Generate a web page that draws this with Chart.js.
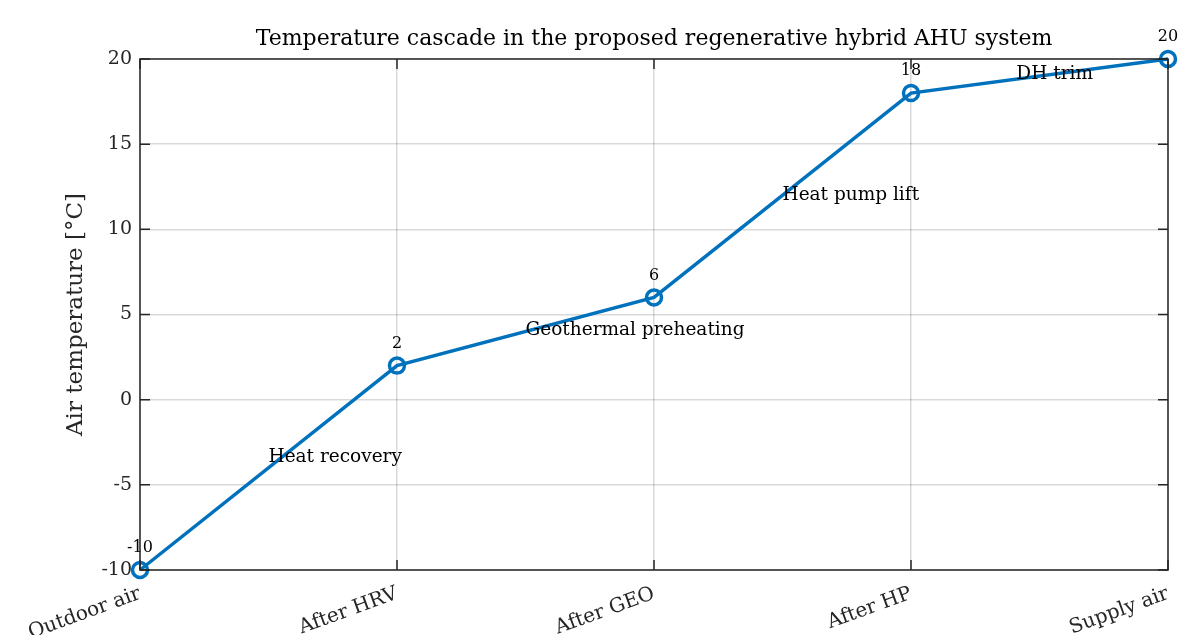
<!DOCTYPE html>
<html>
<head>
<meta charset="utf-8">
<script src="https://cdn.jsdelivr.net/npm/chart.js@4"></script>
<style>
  html, body { margin: 0; padding: 0; background: #fff; }
  #wrap { width: 1186px; height: 635px; }
</style>
</head>
<body>
<div id="wrap"><canvas id="cascadeChart" width="1186" height="635"></canvas></div>
<script>
// Stages of the AHU and the air temperature after each one
const stages = ['Outdoor air', 'After HRV', 'After GEO', 'After HP', 'Supply air'];
const temps = [-10, 2, 6, 18, 20];

// Process annotations: text, x (stage index), y (°C)
const noteTexts = ['Heat recovery', 'Geothermal preheating', 'Heat pump lift', 'DH trim'];
const noteX = [0.5, 1.5, 2.5, 3.41];
const noteY = [-3.4, 4.1, 12.0, 19.1];

const FONT = "'DejaVu Serif', serif";
const LINE_BLUE = '#0072BD';
const AXIS_COLOR = '#262626';

/**
 * Axes box, inward ticks, title, point values and annotations
 */
const matlabAxes = {
  id: 'matlabAxes',
  afterDraw(chart) {
    const { ctx, chartArea: a, scales } = chart;
    const xs = scales.x, ys = scales.y;
    ctx.save();

    // box
    ctx.strokeStyle = AXIS_COLOR;
    ctx.lineWidth = 1.5;
    ctx.strokeRect(a.left, a.top, a.right - a.left, a.bottom - a.top);

    // inward tick marks on all four sides
    const tl = 10;
    ctx.beginPath();
    xs.ticks.forEach((t, i) => {
      const px = xs.getPixelForTick(i);
      ctx.moveTo(px, a.bottom); ctx.lineTo(px, a.bottom - tl);
      ctx.moveTo(px, a.top); ctx.lineTo(px, a.top + tl);
    });
    ys.ticks.forEach((t) => {
      const py = ys.getPixelForValue(t.value);
      ctx.moveTo(a.left, py); ctx.lineTo(a.left + tl, py);
      ctx.moveTo(a.right, py); ctx.lineTo(a.right - tl, py);
    });
    ctx.stroke();

    // title
    ctx.fillStyle = '#000';
    ctx.textAlign = 'center';
    ctx.textBaseline = 'middle';
    ctx.font = `22px ${FONT}`;
    ctx.fillText('Temperature cascade in the proposed regenerative hybrid AHU system', (a.left + a.right) / 2, 39);

    // value labels above points
    ctx.font = `16px ${FONT}`;
    temps.forEach((v, i) => {
      const px = xs.getPixelForValue(i);
      const py = ys.getPixelForValue(v);
      ctx.fillText(String(v), px, py - 22);
    });

    // process annotations
    ctx.font = `18.5px ${FONT}`;
    ctx.textAlign = 'left';
    noteTexts.forEach((txt, i) => {
      ctx.fillText(txt, xs.getPixelForValue(noteX[i]), ys.getPixelForValue(noteY[i]));
    });

    ctx.restore();
  }
};

const ctx = document.getElementById('cascadeChart').getContext('2d');
new Chart(ctx, {
  type: 'line',
  data: {
    labels: stages,
    datasets: [{
      data: temps,
      borderColor: LINE_BLUE,
      borderWidth: 3.5,
      tension: 0,
      fill: false,
      pointRadius: 7.5,
      pointHoverRadius: 7.5,
      pointBorderWidth: 3.5,
      pointBorderColor: LINE_BLUE,
      pointBackgroundColor: 'rgba(0,0,0,0)',
      clip: false,
    }],
  },
  options: {
    responsive: false,
    animation: false,
    devicePixelRatio: 1,
    layout: { padding: { top: 59, right: 18, bottom: 0, left: 0 } },
    plugins: {
      legend: { display: false },
      title: { display: false },
      tooltip: { enabled: false },
    },
    scales: {
      x: {
        type: 'category',
        offset: false,
        grid: { color: 'rgba(0,0,0,0.15)', lineWidth: 1.5, drawTicks: false },
        border: { display: false },
        ticks: {
          color: AXIS_COLOR,
          font: { family: FONT, size: 20 },
          maxRotation: 20,
          minRotation: 20,
          padding: 12,
          autoSkip: false,
        },
        afterFit(scale) {
          scale.height = 65;
          scale.paddingLeft = 0;
          scale.paddingRight = 0;
        },
      },
      y: {
        min: -10,
        max: 20,
        grid: { color: 'rgba(0,0,0,0.15)', lineWidth: 1.5, drawTicks: false },
        border: { display: false },
        ticks: {
          stepSize: 5,
          color: AXIS_COLOR,
          font: { family: FONT, size: 19 },
          padding: 8,
        },
        title: {
          display: true,
          text: 'Air temperature [°C]',
          color: AXIS_COLOR,
          font: { family: FONT, size: 23 },
          padding: { top: 62, bottom: 0 },
        },
        afterFit(scale) {
          scale.width = 140;
          scale.paddingTop = 0;
          scale.paddingBottom = 0;
        },
      },
    },
  },
  plugins: [matlabAxes],
});
</script>
</body>
</html>
